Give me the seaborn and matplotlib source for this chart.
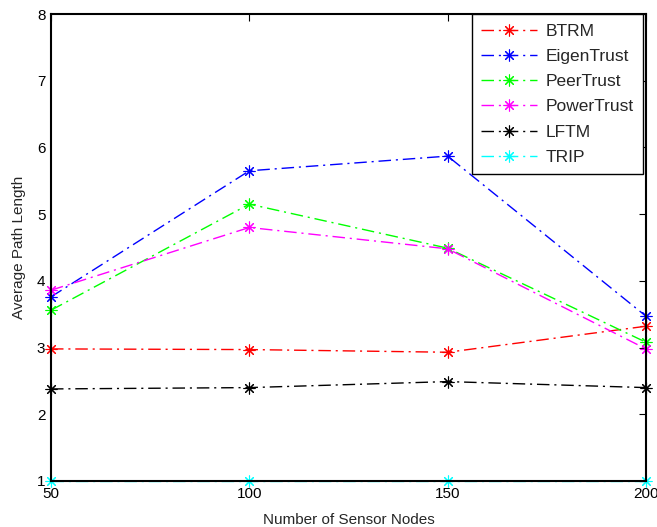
import matplotlib
matplotlib.use("Agg")
import matplotlib.pyplot as plt
import seaborn as sns
import pandas as pd

# Network sizes and mean path length per trust model
nodes = [50, 100, 150, 200]
btrm = [2.98, 2.97, 2.93, 3.32]
eigentrust = [3.76, 5.65, 5.87, 3.47]
peertrust = [3.56, 5.15, 4.49, 3.08]
powertrust = [3.86, 4.80, 4.48, 2.98]
lftm = [2.38, 2.40, 2.49, 2.40]
trip = [1.0, 1.0, 1.0, 1.0]

models = ["BTRM", "EigenTrust", "PeerTrust", "PowerTrust", "LFTM", "TRIP"]
series = [btrm, eigentrust, peertrust, powertrust, lftm, trip]
colors = ["#ff0000", "#0000ff", "#00ff00", "#ff00ff", "#000000", "#00ffff"]

rows = []
for name, vals in zip(models, series):
    for n, v in zip(nodes, vals):
        rows.append({"Nodes": n, "Length": v, "Model": name})
df = pd.DataFrame(rows)

sns.set_style("white")
plt.rcParams["font.family"] = ["Liberation Sans", "DejaVu Sans"]

fig = plt.figure(figsize=(6.57, 5.27), dpi=100)
ax = fig.add_axes([51 / 657, 1 - 481 / 527, (646 - 51) / 657, (481 - 14) / 527])

# eight-spoke asterisk marker, dash-dot lines
star = (8, 2, 0)
sns.lineplot(
    data=df, x="Nodes", y="Length", hue="Model", style="Model",
    hue_order=models, style_order=models,
    palette=dict(zip(models, colors)),
    dashes={m: (9, 3.5, 1.5, 3.5) for m in models},
    markers={m: star for m in models},
    markersize=8.5, markeredgewidth=0.8, linewidth=1.0,
    ax=ax, clip_on=False, zorder=2,
)

# asterisk markers take the colour of their line
for ln in ax.lines:
    ln.set_markeredgecolor(ln.get_color())

ax.set_xlim(50, 200)
ax.set_ylim(1, 8)
ax.set_xticks([50, 100, 150, 200])
ax.set_yticks([1, 2, 3, 4, 5, 6, 7, 8])
ax.tick_params(direction="in", top=True, right=True, length=5, width=0.8,
               labelsize=11, pad=4, colors="black")
for sp in ax.spines.values():
    sp.set_color("black")
    sp.set_linewidth(1.5)
    sp.set_zorder(2.5)
ax.set_xlabel("Number of Sensor Nodes", fontsize=11, labelpad=9)
ax.set_ylabel("Average Path Length", fontsize=11, labelpad=8)

leg = ax.legend(loc="upper right", bbox_to_anchor=(643 / 657, 1 - 14 / 527),
                bbox_transform=fig.transFigure,
                fontsize=12.5, frameon=True, fancybox=False,
                edgecolor="black", framealpha=1, handlelength=3.2,
                borderaxespad=0.0, labelspacing=0.58, borderpad=0.55,
                handletextpad=0.5)
leg.get_frame().set_linewidth(1.0)
for h in leg.legend_handles:
    h.set_markeredgecolor(h.get_color())

fig.savefig("out.png", dpi=100)
